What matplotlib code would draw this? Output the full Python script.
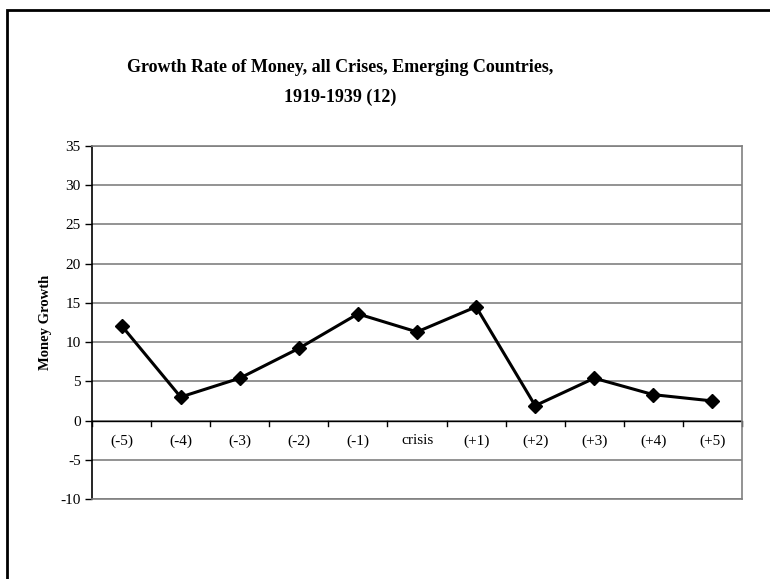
import matplotlib.pyplot as plt
from matplotlib.patches import Rectangle

# data
periods = ['(-5)', '(-4)', '(-3)', '(-2)', '(-1)', 'crisis', '(+1)', '(+2)', '(+3)', '(+4)', '(+5)']
money_growth = [12.1, 3.0, 5.4, 9.2, 13.6, 11.3, 14.5, 1.9, 5.4, 3.3, 2.5]
yticks = [-10, -5, 0, 5, 10, 15, 20, 25, 30, 35]

plt.rcParams['font.family'] = ['Liberation Serif', 'DejaVu Serif']

fig = plt.figure(figsize=(7.7, 5.79), dpi=100)
ax = fig.add_axes([92/770, 80/579, 650/770, 353/579])

# outer chart border (only left/top visible in the original)
fig.patches.append(Rectangle((7/770, -0.1), 1.2, 1.1 - 10/579, transform=fig.transFigure,
                             fill=False, edgecolor='black', linewidth=2))

x = list(range(len(periods)))
ax.plot(x, money_growth, color='black', linewidth=2.2, marker='D', markersize=7)

ax.set_xlim(-0.5, len(periods) - 0.5)
ax.set_ylim(-10, 35)
ax.set_yticks(yticks)
ax.set_yticklabels([str(v) for v in yticks], fontsize=11)
ax.yaxis.grid(True, color='#808080', linewidth=1.2)
ax.set_axisbelow(True)

# category axis crosses at zero
ax.axhline(0, color='black', linewidth=1)
for i in range(len(periods) + 1):
    ax.plot([i - 0.5, i - 0.5], [0, -0.7], color='black', linewidth=1, clip_on=False)
for i, p in enumerate(periods):
    ax.text(i, -2.6, p, ha='center', va='center', fontsize=11)
ax.set_xticks([])

ax.spines['left'].set_color('black')
ax.spines['left'].set_linewidth(1.2)
for s in ['top', 'right', 'bottom']:
    ax.spines[s].set_color('#808080')
    ax.spines[s].set_linewidth(1.2)
ax.tick_params(axis='y', length=5, width=1, color='black', pad=3)

ax.set_ylabel('Money Growth', fontsize=10.5, fontweight='bold', labelpad=6)

fig.text(340/770, 1 - 68/579, 'Growth Rate of Money, all Crises, Emerging Countries,',
         ha='center', va='center', fontsize=13, fontweight='bold')
fig.text(340/770, 1 - 97/579, '1919-1939 (12)',
         ha='center', va='center', fontsize=13, fontweight='bold')

fig.savefig('out.png', dpi=100)
